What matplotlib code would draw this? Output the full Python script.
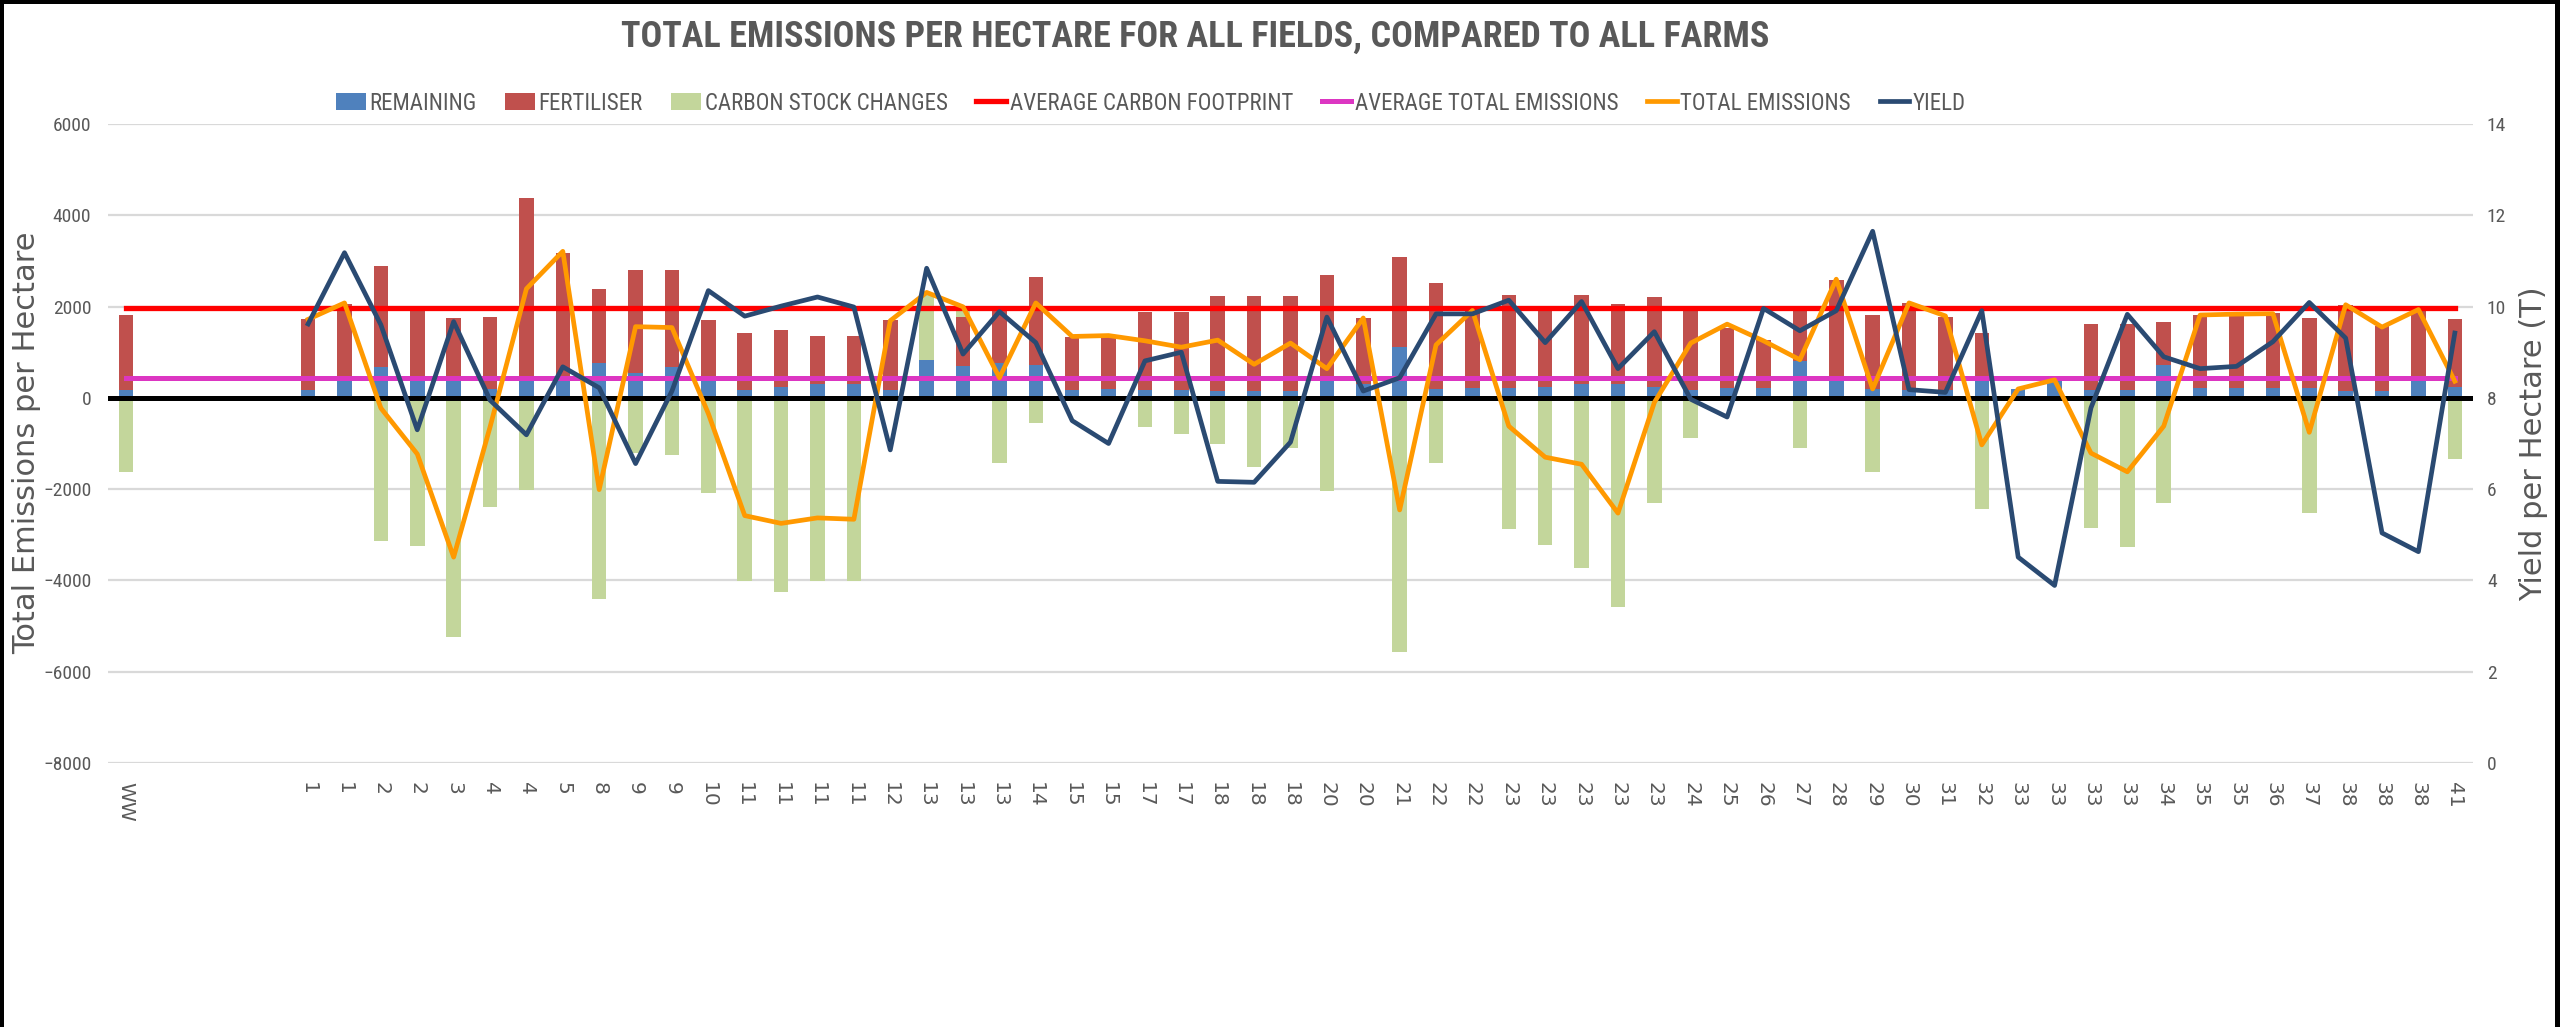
import numpy as np
import matplotlib
matplotlib.use("Agg")
import matplotlib.pyplot as plt
from matplotlib import font_manager
from matplotlib.patches import Rectangle

# field labels along the x axis (4 empty slots after WW)
fields = ["WW", "", "", "", "",
          "1", "1", "2", "2", "3", "4", "4", "5", "8", "9", "9", "10",
          "11", "11", "11", "11", "12", "13", "13", "13", "14", "15", "15",
          "17", "17", "18", "18", "18", "20", "20", "21", "22", "22",
          "23", "23", "23", "23", "23", "24", "25", "26", "27", "28", "29",
          "30", "31", "32", "33", "33", "33", "33", "34", "35", "35", "36",
          "37", "38", "38", "38", "41"]

remaining = [177, 0, 0, 0, 0,
             167, 393, 668, 393, 393, 196, 393, 393, 756, 540, 687, 393,
             167, 236, 295, 295, 167, 835, 707, 756, 715, 167, 196,
             167, 167, 147, 147, 147, 363, 300, 1119, 196, 226,
             226, 245, 314, 295, 245, 167, 206, 226, 805, 373, 196,
             167, 167, 394, 197, 394, 167, 167, 717, 206, 226, 206,
             206, 147, 147, 363, 245]

fertiliser = [1640, 0, 0, 0, 0,
              1550, 1670, 2210, 1540, 1355, 1570, 3980, 2780, 1620, 2260, 2110, 1320,
              1250, 1240, 1070, 1050, 1530, 0, 1060, 1140, 1935, 1170, 1140,
              1720, 1720, 2090, 2090, 2090, 2330, 1450, 1965, 2330, 1710,
              2035, 1720, 1945, 1770, 1965, 1800, 1315, 1050, 1160, 2220, 1620,
              1915, 1600, 1020, 0, 0, 1455, 1455, 950, 1610, 1610, 1660,
              1550, 1895, 1425, 1600, 1475]

carbon_stock = [-1620, 0, 0, 0, 0,
                0, 0, -3140, -3240, -5250, -2400, -2010, 0, -4400, -1200, -1250, -2080,
                -4010, -4250, -4010, -4010, 0, 1420, 200, -1420, -560, 0, 0,
                -635, -790, -1000, -1515, -1100, -2045, 0, -5560, -1420, 0,
                -2870, -3230, -3720, -4590, -2300, -875, 0, 0, -1100, 0, -1620,
                0, 0, -2435, 0, 0, -2850, -3260, -2310, 0, 0, 0,
                -2525, 0, 0, 0, -1345]

total_emissions = [np.nan, np.nan, np.nan, np.nan, np.nan,
                   1720, 2080, -225, -1230, -3490, -640, 2390, 3210, -2010, 1560, 1540, -345,
                   -2580, -2750, -2630, -2660, 1690, 2310, 1995, 440, 2080, 1345, 1365,
                   1250, 1110, 1265, 735, 1200, 640, 1750, -2455, 1160, 1915,
                   -620, -1300, -1455, -2525, -100, 1200, 1615, 1250, 835, 2600, 195,
                   2080, 1795, -1030, 195, 395, -1210, -1620, -620, 1815, 1835, 1845,
                   -755, 2040, 1550, 1935, 365]

yield_t = [np.nan, np.nan, np.nan, np.nan, np.nan,
           9.62, 11.18, 9.6, 7.30, 9.67, 7.95, 7.19, 8.68, 8.22, 6.56, 8.15, 10.35,
           9.79, 10.01, 10.21, 9.99, 6.86, 10.84, 8.96, 9.89, 9.21, 7.50, 7.00,
           8.81, 9.00, 6.17, 6.15, 7.03, 9.77, 8.15, 8.44, 9.84, 9.84,
           10.14, 9.21, 10.11, 8.64, 9.45, 7.97, 7.58, 9.96, 9.47, 9.91, 11.65,
           8.18, 8.12, 9.91, 4.51, 3.89, 7.78, 9.83, 8.90, 8.64, 8.69, 9.23,
           10.09, 9.31, 5.04, 4.63, 9.42]

avg_carbon_footprint = 1975
avg_total_emissions = 430

GREY = "#595959"


def pick_font(*names):
    """Return the first installed font family from names"""
    have = {f.name for f in font_manager.fontManager.ttflist}
    for n in names:
        if n in have:
            return n
    return "DejaVu Sans"


NARROW = pick_font("Liberation Sans Narrow", "Roboto Condensed", "Liberation Sans")


def main():
    x = np.arange(len(fields))
    rem = np.array(remaining, dtype=float)
    fert = np.array(fertiliser, dtype=float)
    carb = np.array(carbon_stock, dtype=float)
    carb_bottom = np.where(carb >= 0, rem + fert, 0)

    fig = plt.figure(figsize=(25.6, 10.27), dpi=100)
    ax = fig.add_axes([108 / 2560, 1 - 763 / 1027, 2365 / 2560, 639 / 1027])

    w = 0.4
    b1 = ax.bar(x, rem, w, color="#4F81BD", zorder=2)
    b2 = ax.bar(x, fert, w, bottom=rem, color="#C0504D", zorder=2)
    b3 = ax.bar(x, carb, w, bottom=carb_bottom, color="#C3D69B", zorder=2)
    ax.axhline(0, color="black", lw=3.6, zorder=3)
    l1, = ax.plot([x[0], x[-1]], [avg_carbon_footprint] * 2, color="#FF0000",
                  lw=3.8, zorder=4)
    l2, = ax.plot([x[0], x[-1]], [avg_total_emissions] * 2, color="#DC36C2",
                  lw=3.6, zorder=4)
    l3, = ax.plot(x, total_emissions, color="#FF9900", lw=3.4, zorder=5)

    ax2 = ax.twinx()
    l4, = ax2.plot(x, yield_t, color="#2A4A72", lw=3.4)

    ax.set_xlim(-0.5, len(fields) - 0.5)
    ax.set_ylim(-8000, 6000)
    ax.set_yticks(range(-8000, 6001, 2000))
    ax2.set_ylim(0, 14)
    ax2.set_yticks(range(0, 15, 2))
    ax.set_axisbelow(True)
    ax.yaxis.grid(True, color="#D9D9D9", lw=1.6, zorder=0)

    for a in (ax, ax2):
        for s in a.spines.values():
            s.set_visible(False)
    ax.tick_params(axis="y", length=0, pad=12, labelsize=14, labelcolor=GREY)
    ax2.tick_params(axis="y", length=0, pad=10, labelsize=14, labelcolor=GREY)
    for lab in ax.get_yticklabels() + ax2.get_yticklabels():
        lab.set_family(NARROW)

    ax.set_xticks(x)
    ax.set_xticklabels(fields, rotation=270, fontsize=14.5, color=GREY)
    ax.tick_params(axis="x", length=0, pad=14)

    fig.text(27 / 2560, 1 - 443 / 1027, "Total Emissions per Hectare",
             rotation=90, ha="center", va="center", fontsize=22, color=GREY)
    fig.text(2534 / 2560, 1 - 444 / 1027, "Yield per Hectare (T)",
             rotation=90, ha="center", va="center", fontsize=22, color=GREY)

    fig.text(1195 / 2560, 1 - 37 / 1027,
             "TOTAL EMISSIONS PER HECTARE FOR ALL FIELDS, COMPARED TO ALL FARMS",
             ha="center", va="center", fontsize=26, fontweight="bold",
             color=GREY, family=NARROW)

    handles = [b1, b2, b3, l1, l2, l3, l4]
    labels = ["REMAINING", "FERTILISER", "CARBON STOCK CHANGES",
              "AVERAGE CARBON FOOTPRINT", "AVERAGE TOTAL EMISSIONS",
              "TOTAL EMISSIONS", "YIELD"]
    leg = fig.legend(handles, labels, ncol=7, loc="center",
                     bbox_to_anchor=(1151 / 2560, 1 - 103 / 1027),
                     frameon=False, prop={"family": NARROW, "size": 16.5},
                     handlelength=1.3, handleheight=0.75, handletextpad=0.15,
                     columnspacing=1.25)
    for t in leg.get_texts():
        t.set_color(GREY)

    # black frame on left, top and right edges
    for r in [(0, 0, 4 / 2560, 1), (0, 1 - 4 / 1027, 1, 4 / 1027),
              (1 - 5 / 2560, 0, 5 / 2560, 1)]:
        fig.add_artist(Rectangle(r[:2], r[2], r[3], transform=fig.transFigure,
                                 color="black", lw=0))

    fig.savefig("out.png", dpi=100)


if __name__ == "__main__":
    main()
